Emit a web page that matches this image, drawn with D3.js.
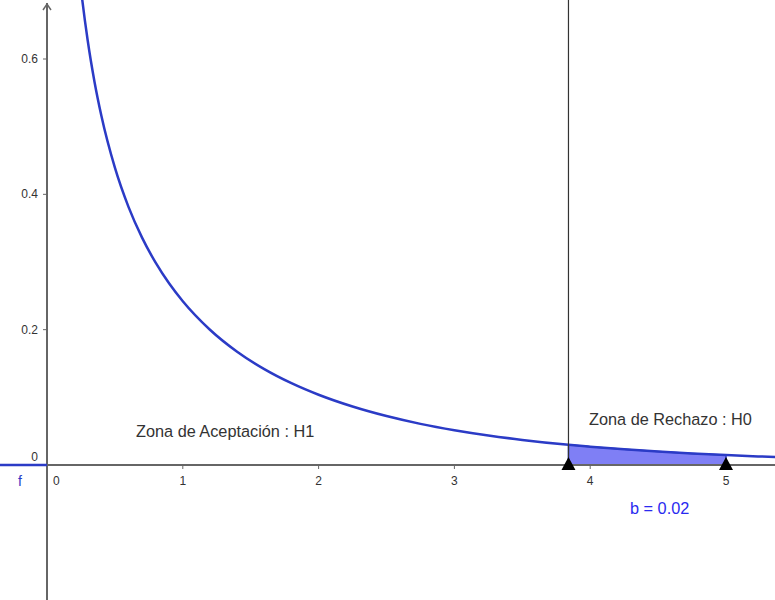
<!DOCTYPE html>
<html>
<head>
<meta charset="utf-8">
<script src="https://cdn.jsdelivr.net/npm/d3@7"></script>
<style>
  html, body { margin: 0; padding: 0; background: #fff; }
  svg { display: block; font-family: "Liberation Sans", Arial, sans-serif; }
</style>
</head>
<body>
<svg id="chart" width="775" height="600"></svg>
<script>
// Density curve f(x), sampled
const curveX = [0.2, 0.25, 0.3, 0.35, 0.4, 0.5, 0.6, 0.7, 0.8, 0.9, 1.0, 1.2, 1.4, 1.6, 1.8, 2.0, 2.25, 2.5, 2.75, 3.0, 3.25, 3.5, 3.84, 4.0, 4.25, 4.5, 4.75, 5.0, 5.25, 5.5];
const curveY = [0.8072, 0.7041, 0.6269, 0.5661, 0.5164, 0.4394, 0.3815, 0.3360, 0.2990, 0.2681, 0.2420, 0.1999, 0.1674, 0.1417, 0.1209, 0.1038, 0.0864, 0.0723, 0.0608, 0.0514, 0.0436, 0.0371, 0.0298, 0.0270, 0.0231, 0.0198, 0.0170, 0.0146, 0.0126, 0.0109];

// Rejection region bounds and its area
const critical = 3.84;
const upper = 5;
const areaLabel = "b = 0.02";

const xTicks = [1, 2, 3, 4, 5];
const yTicks = [0.2, 0.4, 0.6];
const acceptText = "Zona de Aceptación : H1";
const rejectText = "Zona de Rechazo : H0";

const W = 775, H = 600;
const svg = d3.select("#chart");

const x = d3.scaleLinear().domain([0, 5]).range([47, 726]);
const y = d3.scaleLinear().domain([0, 0.6]).range([465, 59]);

const pts = curveX.map((v, i) => ({ x: v, y: curveY[i] }));

svg.append("defs").append("clipPath").attr("id", "plot")
  .append("rect").attr("x", 0).attr("y", 0).attr("width", W).attr("height", H);

const axisColor = "#666";
const textColor = "#333";
const blue = "#2b3bc6";
const labelSize = 16.3;

// shaded rejection region
const shaded = pts.filter(p => p.x >= critical && p.x <= upper);
const area = d3.area().x(d => x(d.x)).y0(y(0)).y1(d => y(d.y)).curve(d3.curveMonotoneX);
svg.append("path").datum(shaded)
  .attr("d", area)
  .attr("fill", "#7f7ff5")
  .attr("stroke", blue)
  .attr("stroke-width", 1.5);

// x-axis
svg.append("line").attr("x1", 0).attr("x2", W).attr("y1", y(0)).attr("y2", y(0))
  .attr("stroke", axisColor).attr("stroke-width", 2);
// y-axis
svg.append("line").attr("x1", x(0)).attr("x2", x(0)).attr("y1", 3).attr("y2", H)
  .attr("stroke", axisColor).attr("stroke-width", 2);
// arrow at the top of y-axis
svg.append("path")
  .attr("d", `M${x(0) - 4},${10} L${x(0)},${4} L${x(0) + 4},${10}`)
  .attr("fill", "none").attr("stroke", axisColor).attr("stroke-width", 1.5);

// x ticks
const xt = svg.append("g");
xt.selectAll("line").data(xTicks).join("line")
  .attr("x1", d => x(d)).attr("x2", d => x(d))
  .attr("y1", y(0) - 1).attr("y2", y(0) + 4)
  .attr("stroke", axisColor).attr("stroke-width", 1);
xt.selectAll("text").data(xTicks).join("text")
  .attr("x", d => x(d)).attr("y", y(0) + 20)
  .attr("text-anchor", "middle").attr("font-size", 12).attr("fill", textColor)
  .text(d => d);
svg.append("text").attr("x", x(0) + 6).attr("y", y(0) + 20)
  .attr("font-size", 12).attr("fill", textColor).text("0");

// y ticks
const yt = svg.append("g");
yt.selectAll("line").data(yTicks).join("line")
  .attr("x1", x(0) - 4).attr("x2", x(0))
  .attr("y1", d => y(d)).attr("y2", d => y(d))
  .attr("stroke", axisColor).attr("stroke-width", 1);
yt.selectAll("text").data(yTicks).join("text")
  .attr("x", x(0) - 9).attr("y", d => y(d) + 4)
  .attr("text-anchor", "end").attr("font-size", 12).attr("fill", textColor)
  .text(d => d.toFixed(1));
svg.append("text").attr("x", x(0) - 9).attr("y", y(0) - 4)
  .attr("text-anchor", "end").attr("font-size", 12).attr("fill", textColor).text("0");

// f is zero for x < 0
svg.append("line").attr("x1", 0).attr("x2", x(0)).attr("y1", y(0)).attr("y2", y(0))
  .attr("stroke", blue).attr("stroke-width", 2.5);
svg.append("text").attr("x", 18).attr("y", y(0) + 21)
  .attr("font-size", 14).attr("fill", blue).text("f");

// density curve
const line = d3.line().x(d => x(d.x)).y(d => y(d.y)).curve(d3.curveMonotoneX);
svg.append("path").datum(pts)
  .attr("clip-path", "url(#plot)")
  .attr("d", line)
  .attr("fill", "none").attr("stroke", blue).attr("stroke-width", 2.5);

// critical value line
svg.append("line").attr("x1", x(critical)).attr("x2", x(critical))
  .attr("y1", 0).attr("y2", y(0))
  .attr("stroke", "#333").attr("stroke-width", 1.2);

// bound markers
svg.selectAll("path.marker").data([critical, upper]).join("path")
  .attr("class", "marker")
  .attr("d", d => `M${x(d) - 7},${y(0) + 5} L${x(d)},${y(0) - 8} L${x(d) + 7},${y(0) + 5} Z`)
  .attr("fill", "#000");

// zone labels
svg.append("text").attr("x", 136).attr("y", 437)
  .attr("font-size", labelSize).attr("fill", textColor).text(acceptText);
svg.append("text").attr("x", 589).attr("y", 425)
  .attr("font-size", labelSize).attr("fill", textColor).text(rejectText);
svg.append("text").attr("x", 630).attr("y", 514)
  .attr("font-size", labelSize).attr("fill", "#2a2af0").text(areaLabel);
</script>
</body>
</html>
